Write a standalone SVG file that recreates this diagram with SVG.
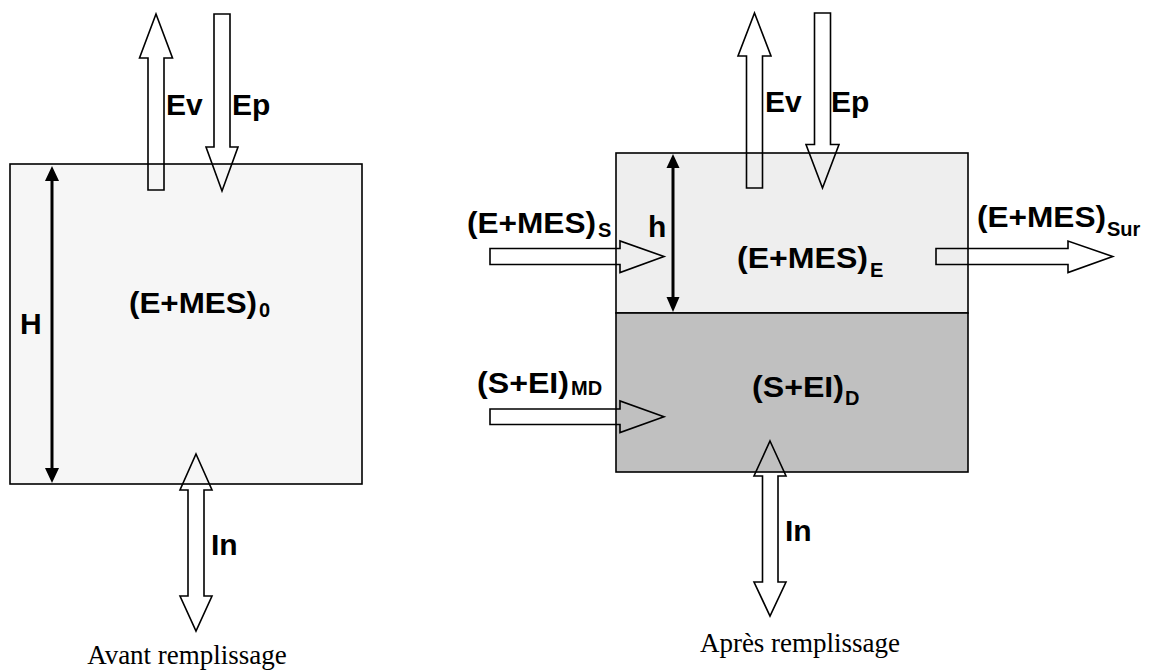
<svg xmlns="http://www.w3.org/2000/svg" width="1152" height="670" viewBox="0 0 1152 670">
<defs>
<style>
.box{stroke:#000;stroke-width:1.6}
.flow{fill:none;stroke:#000;stroke-width:1.6;stroke-linejoin:miter}
.dim{stroke:#000;stroke-width:3;fill:none}
.head{fill:#000;stroke:none}
.lbl{font-family:"Liberation Sans",Arial,sans-serif;font-weight:bold;font-size:30px;fill:#000}
.sub{font-family:"Liberation Sans",Arial,sans-serif;font-weight:bold;font-size:20px;fill:#000}
.cap{font-family:"Liberation Serif","Times New Roman",serif;font-size:27px;fill:#000;text-anchor:middle}
</style>
</defs>
<rect width="1152" height="670" fill="#fff"/>

<g id="bassin-avant">
<rect class="box" x="10" y="164" width="352" height="320" fill="#f6f6f6"/>
</g>
<g id="bassin-apres">
<rect id="eau" class="box" x="616" y="153" width="352" height="160" fill="#eeeeee"/>
<rect id="depot" class="box" x="616" y="313" width="352" height="159" fill="#c0c0c0"/>
</g>

<g id="connectors">
<polygon class="flow" points="156,14 172.5,58 164,58 164,190 148,190 148,58 139.5,58"/>
<polygon class="flow" points="214,14 230,14 230,147 238,147 222,191 206,147 214,147"/>
<polygon class="flow" points="196,454 212,490 204,490 204,596 212,596 196,631 180,596 188,596 188,490 180,490"/>
<line class="dim" x1="52" y1="178" x2="52" y2="471"/>
<polygon class="head" points="52,166 45,181 59,181"/>
<polygon class="head" points="52,483 45,468 59,468"/>

<polygon class="flow" points="754.5,13 771,56 762.5,56 762.5,188 746.5,188 746.5,56 738,56"/>
<polygon class="flow" points="814.5,13 830.5,13 830.5,144.5 839,144.5 822.5,188 806,144.5 814.5,144.5"/>
<polygon class="flow" points="770,441 786,476 778,476 778,582 786,582 770,616 754,582 762.5,582 762.5,476 754,476"/>
<polygon class="flow" points="490,248.5 620,248.5 620,241 664,256.5 620,272.5 620,264.5 490,264.5"/>
<polygon class="flow" points="490,409 620,409 620,401 664,416.7 620,432.5 620,424.5 490,424.5"/>
<polygon class="flow" points="936,248.5 1068,248.5 1068,241 1112.7,256.5 1068,272.5 1068,264.5 936,264.5"/>
<line class="dim" x1="673" y1="164" x2="673" y2="300"/>
<polygon class="head" points="673,154 666.5,168 679.5,168"/>
<polygon class="head" points="673,312 666.5,297 679.5,297"/>
</g>

<g id="labels-avant">
<text class="lbl" x="166" y="115">Ev</text>
<text class="lbl" x="232" y="115">Ep</text>
<text class="lbl" x="20" y="334">H</text>
<text class="lbl" x="129" y="313" textLength="128" lengthAdjust="spacingAndGlyphs">(E+MES)</text>
<text class="sub" x="259" y="317">0</text>
<text class="lbl" x="211" y="555">In</text>
<text class="cap" x="187" y="664">Avant remplissage</text>
</g>

<g id="labels-apres">
<text class="lbl" x="765" y="112">Ev</text>
<text class="lbl" x="831" y="112">Ep</text>
<text class="lbl" x="648" y="237">h</text>
<text class="lbl" x="737" y="268" textLength="131" lengthAdjust="spacingAndGlyphs">(E+MES)</text>
<text class="sub" x="870" y="277">E</text>
<text class="lbl" x="467" y="233" textLength="129" lengthAdjust="spacingAndGlyphs">(E+MES)</text>
<text class="sub" x="598" y="237">S</text>
<text class="lbl" x="477" y="393" textLength="92" lengthAdjust="spacingAndGlyphs">(S+EI)</text>
<text class="sub" x="571" y="395">MD</text>
<text class="lbl" x="752" y="397" textLength="92" lengthAdjust="spacingAndGlyphs">(S+EI)</text>
<text class="sub" x="845" y="405">D</text>
<text class="lbl" x="977" y="227" textLength="129" lengthAdjust="spacingAndGlyphs">(E+MES)</text>
<text class="sub" x="1107" y="236">Sur</text>
<text class="lbl" x="785" y="541">In</text>
<text class="cap" x="800" y="652">Après remplissage</text>
</g>
</svg>
